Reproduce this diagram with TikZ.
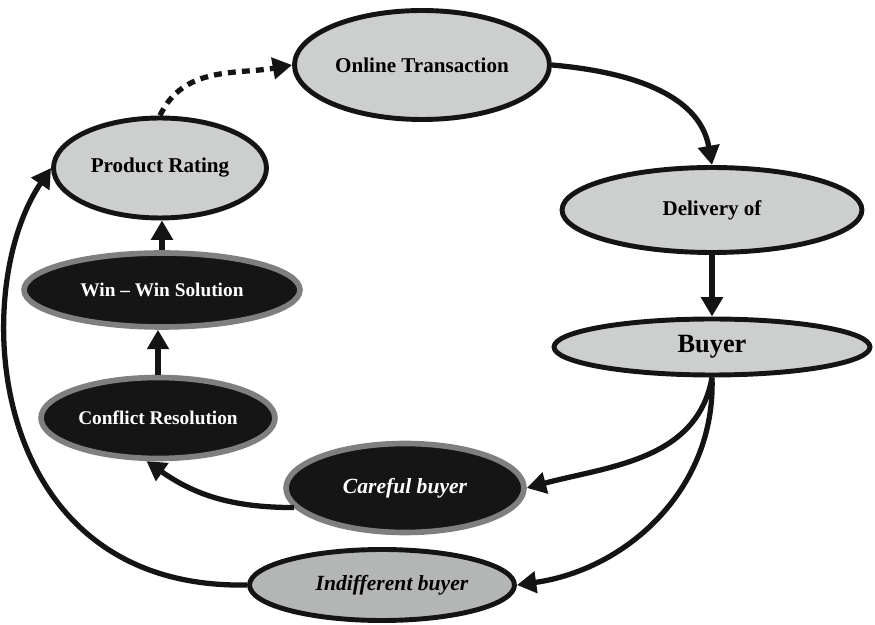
\documentclass[tikz,border=0pt]{standalone}
\usepackage{fontspec}
\setmainfont{Liberation Serif}
\usetikzlibrary{shapes.geometric, arrows.meta}

\definecolor{lightfill}{HTML}{CDCFCE}
\definecolor{midfill}{HTML}{B4B6B5}
\definecolor{darkfill}{HTML}{151515}
\definecolor{rimgray}{HTML}{7F7F7F}
\definecolor{linecol}{HTML}{141414}

\begin{document}
\begin{tikzpicture}[
  x=0.02cm, y=0.02cm,
  oval/.style={ellipse, inner sep=0pt, font=\bfseries\fontsize{12}{14}\selectfont},
  lightoval/.style={oval, draw=linecol, line width=2.8pt, fill=lightfill, text=black},
  darkoval/.style={oval, draw=rimgray, line width=3.2pt, fill=darkfill, text=white},
  arr/.style={-{Triangle[length=11pt, width=12pt]}, line width=3pt, draw=linecol},
  dasharr/.style={arr, dash pattern=on 4.5pt off 3.5pt},
]
\useasboundingbox (0,0) rectangle (875,625);

%% Nodes
\node[lightoval, minimum width=5.1cm, minimum height=2.18cm]  (online)   at (422,560) {Online Transaction};
\node[lightoval, minimum width=4.26cm, minimum height=2cm]    (rating)   at (160,457) {Product Rating};
\node[lightoval, minimum width=6cm, minimum height=1.7cm]     (delivery) at (712,415) {Delivery of};
\node[lightoval, minimum width=6.32cm, minimum height=1.12cm,
      font=\bfseries\fontsize{15}{17}\selectfont]             (buyer)    at (712,278) {Buyer};
\node[darkoval, minimum width=5.52cm, minimum height=1.48cm,
      font=\bfseries\fontsize{11}{13}\selectfont]             (winwin)   at (162,335) {Win – Win Solution};
\node[darkoval, minimum width=4.68cm, minimum height=1.62cm,
      font=\bfseries\fontsize{11}{13}\selectfont]             (conflict) at (158,207) {Conflict Resolution};
\node[darkoval, minimum width=4.76cm, minimum height=1.78cm,
      font=\bfseries\itshape\fontsize{12.3}{14}\selectfont]   (careful)  at (405,137) {Careful buyer};
\node[lightoval, fill=midfill, minimum width=5.3cm, minimum height=1.42cm,
      font=\bfseries\itshape\fontsize{12.3}{14}\selectfont]   (indiff)   at (382,40)  {\hspace*{0.4cm}Indifferent buyer};

%% Arrows (main cycle)
\draw[dasharr] (rating.north) to[out=65, in=190] (online.west);
\draw[arr] (online.east) to[out=-5, in=100] (delivery.north);
\draw[arr] (delivery.south) -- (buyer.north);
\draw[arr] (buyer.south) to[out=-100, in=15] (careful.east);
\draw[arr] (buyer.south) to[out=-88, in=8] (indiff.east);

%% Careful branch
\draw[arr] (careful.190) to[out=180, in=-35] (conflict.255);
\draw[arr] (conflict.north) -- (conflict.north |- winwin.south);
\draw[arr] (winwin.north) -- (winwin.north |- rating.south);

%% Indifferent branch back to rating
\draw[arr] (indiff.west) .. controls (-15,35) and (-32,335) .. (rating.west);

\end{tikzpicture}
\end{document}
